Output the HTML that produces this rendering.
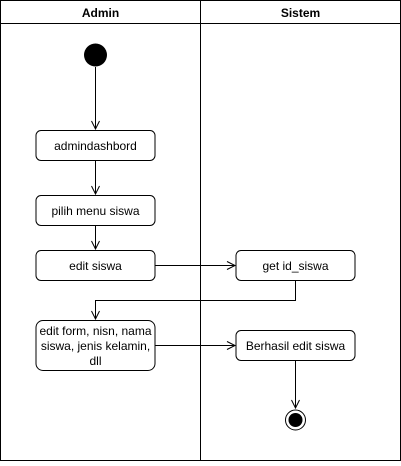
<!DOCTYPE html>
<html><head><style>body{margin:0;background:#fff}</style></head><body>
<svg width="401" height="461" xmlns="http://www.w3.org/2000/svg" font-family="Liberation Sans, Arial, sans-serif">
<rect x="0.5" y="0.5" width="400" height="460" fill="#fff" stroke="#000"/>
<line x1="0.5" y1="23.5" x2="400.5" y2="23.5" stroke="#000"/>
<line x1="200.5" y1="0.5" x2="200.5" y2="460.5" stroke="#000"/>
<text x="100.5" y="17" font-size="12" font-weight="bold" text-anchor="middle">Admin</text>
<text x="300.5" y="17" font-size="12" font-weight="bold" text-anchor="middle">Sistem</text>
<circle cx="95.5" cy="55" r="11.5" fill="#000"/>
<g fill="none" stroke="#000">
<path d="M95.5 67V129 M91.5 121L95.5 129L99.5 121"/>
<path d="M95.5 160V194 M91.5 186L95.5 194L99.5 186"/>
<path d="M95.5 225V249 M91.5 241L95.5 249L99.5 241"/>
<path d="M155 265.5H235 M227 261.5L235 265.5L227 269.5"/>
<path d="M295.5 280V300.5H95.5V319 M91.5 311L95.5 319L99.5 311"/>
<path d="M155 345.5H235 M227 341.5L235 345.5L227 349.5"/>
<path d="M295.5 360V408 M291.5 400L295.5 408L299.5 400"/>
<rect x="36" y="130.5" width="119" height="30" rx="5"/>
<rect x="36" y="195.5" width="119" height="30" rx="5"/>
<rect x="36" y="250.5" width="119" height="30" rx="5"/>
<rect x="236" y="250.5" width="119" height="30" rx="5"/>
<rect x="36" y="320.5" width="119" height="50" rx="7"/>
<rect x="236" y="330.5" width="119" height="30" rx="5"/>
<circle cx="295.5" cy="420" r="10"/>
</g>
<circle cx="295.5" cy="420" r="7" fill="#000"/>
<g font-size="12" text-anchor="middle" fill="#000">
<text x="95.5" y="150">admindashbord</text>
<text x="95.5" y="215">pilih menu siswa</text>
<text x="95.5" y="270">edit siswa</text>
<text x="295.5" y="270">get id_siswa</text>
<text x="95.5" y="335">edit form, nisn, nama</text>
<text x="95.5" y="350">siswa, jenis kelamin,</text>
<text x="95.5" y="365">dll</text>
<text x="295.5" y="350">Berhasil edit siswa</text>
</g>
</svg>
</body></html>
